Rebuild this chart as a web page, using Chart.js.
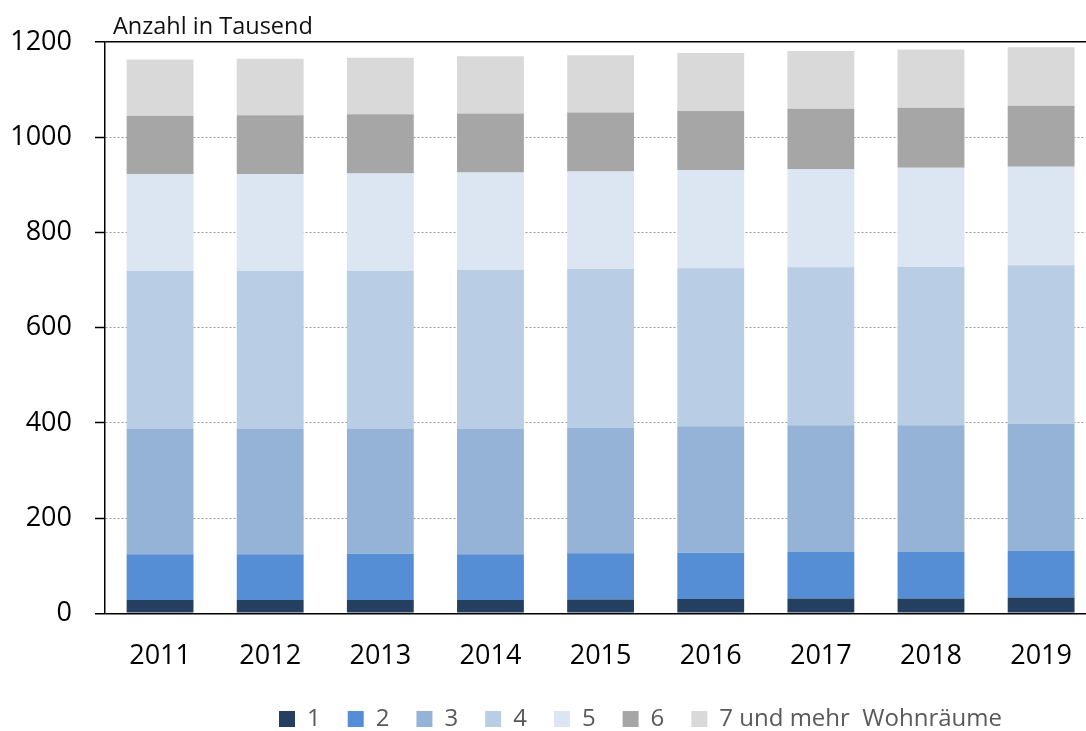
<!DOCTYPE html>
<html>
<head>
<meta charset="utf-8">
<script src="https://cdn.jsdelivr.net/npm/chart.js@4"></script>
<style>
  html, body { margin: 0; padding: 0; background: #fff; overflow: hidden; }
  #wrap { width: 1086px; height: 731px; overflow: hidden; }
</style>
</head>
<body>
<div id="wrap"><canvas id="c" width="1099" height="731"></canvas></div>
<script>
// ---- data ----
const categories = ['2011', '2012', '2013', '2014', '2015', '2016', '2017', '2018', '2019'];
const rooms1 = [28, 28, 28, 28, 29, 30, 31, 31, 33];
const rooms2 = [96, 96, 97, 96, 97, 97, 98, 98, 98];
const rooms3 = [264, 264, 263, 264, 264, 266, 266, 266, 267];
const rooms4 = [331, 331, 331, 333, 333, 332, 332, 333, 333];
const rooms5 = [203, 204, 205, 205, 205, 206, 206, 208, 207];
const rooms6 = [123, 123, 124, 124, 124, 124, 127, 126, 128];
const rooms7 = [118, 119, 119, 120, 120, 122, 121, 122, 123];
const seriesLabels = ['1', '2', '3', '4', '5', '6', '7 und mehr  Wohnräume'];
const yTicks = [0, 200, 400, 600, 800, 1000, 1200];
const unitLabel = 'Anzahl in Tausend';

const colors = ['#243F60', '#558ED5', '#95B3D7', '#B9CDE5', '#DCE6F2', '#A6A6A6', '#D9D9D9'];
const FONT = '"Open Sans", "Noto Sans", sans-serif';

const allSeries = [rooms1, rooms2, rooms3, rooms4, rooms5, rooms6, rooms7];
const datasets = allSeries.map((d, i) => ({
  label: seriesLabels[i],
  data: d,
  backgroundColor: colors[i],
  borderWidth: 0,
  barPercentage: 0.607,
  categoryPercentage: 1.0
}));

const isEdge = (ctx) => ctx.tick && (ctx.tick.value === yTicks[0] || ctx.tick.value === yTicks[yTicks.length - 1]);

const unitLabelPlugin = {
  id: 'unitLabel',
  afterDraw(chart) {
    const c = chart.ctx;
    c.save();
    c.font = '23.5px ' + FONT;
    c.fillStyle = '#111';
    c.textAlign = 'left';
    c.textBaseline = 'alphabetic';
    c.fillText(unitLabel, chart.chartArea.left + 8, chart.chartArea.top - 8);
    c.restore();
  }
};

const legendPlace = {
  id: 'legendPlace',
  afterLayout(chart) {
    const lg = chart.legend;
    if (!lg) return;
    const pad = lg.options.labels.padding;
    const w = lg.right - lg.left;
    lg.left = 279 - pad;
    lg.right = lg.left + w;
    const fs = lg.options.labels.font.size;
    const center = lg.top + pad + fs / 2;
    const dy = 719 - center;
    lg.top += dy;
    lg.bottom += dy;
  }
};

new Chart(document.getElementById('c'), {
  type: 'bar',
  data: { labels: categories, datasets },
  plugins: [unitLabelPlugin, legendPlace],
  options: {
    responsive: false,
    animation: false,
    layout: { padding: { top: 42, left: 0, right: 0, bottom: 0 } },
    plugins: {
      tooltip: { enabled: false },
      title: { display: false },
      legend: {
        position: 'bottom',
        align: 'start',
        labels: {
          boxWidth: 16,
          boxHeight: 16,
          padding: 27,
          color: '#595959',
          font: { family: FONT, size: 24 }
        }
      }
    },
    scales: {
      x: {
        stacked: true,
        grid: { display: false, drawTicks: false },
        border: { display: false },
        ticks: { color: '#000', font: { family: FONT, size: 27 }, padding: 27, maxRotation: 0 },
        afterFit(scale) { scale.height = 56.7; }
      },
      y: {
        stacked: true,
        min: 0,
        max: 1200,
        afterFit(scale) { scale.width = 105; },
        afterBuildTicks(scale) { scale.ticks = yTicks.map(v => ({ value: v })); },
        ticks: {
          color: '#000',
          font: { family: FONT, size: 27 },
          padding: 23,
          callback: (v) => String(v)
        },
        grid: {
          color: (ctx) => isEdge(ctx) ? '#000' : '#9a9a9a',
          lineWidth: (ctx) => isEdge(ctx) ? 1.5 : 1,
          tickLength: 10,
          tickColor: '#000',
          tickWidth: 1.5,
          drawTicks: true
        },
        border: {
          display: true,
          color: '#000',
          width: 1.5,
          dash: (ctx) => (ctx.type === 'tick' && !isEdge(ctx)) ? [2, 2] : []
        }
      }
    }
  }
});
</script>
</body>
</html>
